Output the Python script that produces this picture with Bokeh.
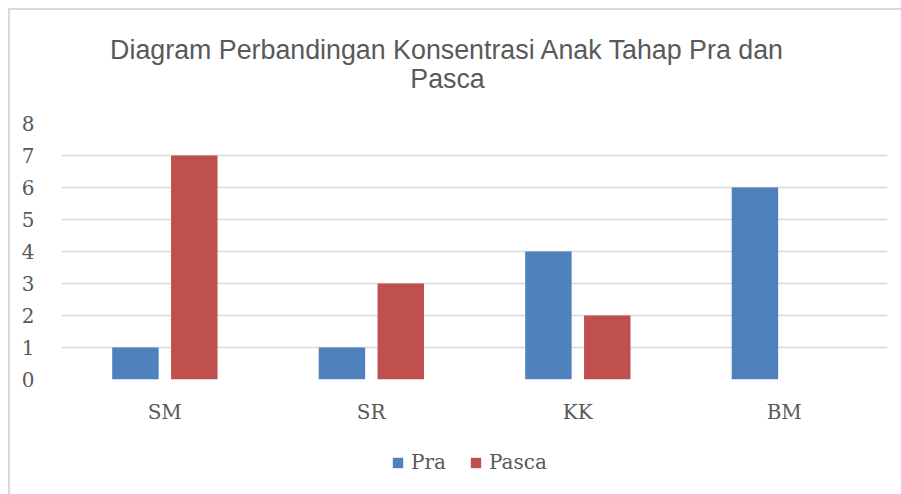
from bokeh.plotting import figure
from bokeh.layouts import column
from bokeh.models import (ColumnDataSource, FactorRange, Range1d, Legend, LegendItem,
                          Label, FixedTicker)
from bokeh.transform import dodge
from bokeh.embed import file_html
from bokeh.resources import INLINE

categories = ["SM", "SR", "KK", "BM"]
pra = [1, 1, 4, 6]
pasca = [7, 3, 2, 0]
series_names = ["Pra", "Pasca"]
y_ticks = [0, 1, 2, 3, 4, 5, 6, 7, 8]
title_lines = ["Diagram Perbandingan Konsentrasi Anak Tahap Pra dan", "Pasca"]

source = ColumnDataSource(dict(cat=categories, pra=pra, pasca=pasca))

TEXT = "#595959"
SERIF = "DejaVu Serif"
BLUE = "#4f81bd"
RED = "#c0504d"
W = 901


def bare(fig):
    fig.border_fill_color = None
    fig.background_fill_color = None
    fig.outline_line_color = None
    fig.frame_align = False
    return fig


# ---- title strip ----
pt = bare(figure(width=W, height=100, x_range=Range1d(0, W), y_range=Range1d(0, 100),
                 x_axis_type=None, y_axis_type=None, output_backend="svg",
                 toolbar_location=None, min_border=0))
for txt, yy in zip(title_lines, [51, 21.5]):
    pt.add_layout(Label(x=447, y=yy, text=txt, text_align="center",
                        text_baseline="alphabetic", text_font="Liberation Sans",
                        text_font_size="26.8px", text_color=TEXT))

# ---- main chart ----
p = bare(figure(width=W, height=340, x_range=FactorRange(*categories),
                y_range=Range1d(0, 8), output_backend="svg", toolbar_location=None,
                min_border_left=61, min_border_right=14,
                min_border_top=23, min_border_bottom=61))

p.vbar(x=dodge("cat", -0.142, range=p.x_range), top="pra", width=0.225,
       source=source, fill_color=BLUE, line_color=None)
p.vbar(x=dodge("cat", 0.143, range=p.x_range), top="pasca", width=0.225,
       source=source, fill_color=RED, line_color=None)

p.yaxis.ticker = FixedTicker(ticks=y_ticks)
for ax in (p.xaxis[0], p.yaxis[0]):
    ax.axis_line_color = None
    ax.major_tick_line_color = None
    ax.minor_tick_line_color = None
    ax.major_label_text_font = SERIF
    ax.major_label_text_font_size = "20px"
    ax.major_label_text_color = TEXT
p.yaxis.major_label_standoff = 21
p.xaxis.major_label_standoff = 14
p.xgrid.grid_line_color = None
p.ygrid.grid_line_color = "#d9d9d9"
p.ygrid.grid_line_width = 1.5

# ---- legend strip ----
pl = bare(figure(width=W, height=54, x_range=FactorRange(*categories),
                 y_range=Range1d(100, 101), x_axis_type=None, y_axis_type=None,
                 output_backend="svg", toolbar_location=None, min_border=0))
l1 = pl.vbar(x="cat", top="pra", width=0.2, source=source, fill_color=BLUE, line_color=None)
l2 = pl.vbar(x="cat", top="pasca", width=0.2, source=source, fill_color=RED, line_color=None)
legend = Legend(items=[LegendItem(label=series_names[0], renderers=[l1]),
                       LegendItem(label=series_names[1], renderers=[l2])],
                orientation="horizontal", location=(391, 20),
                glyph_width=13, glyph_height=13, label_height=13,
                label_standoff=7, spacing=23, padding=0, margin=0,
                border_line_color=None, background_fill_color=None,
                label_text_font=SERIF, label_text_font_size="20px",
                label_text_color=TEXT, label_text_baseline="middle")
pl.add_layout(legend)

layout = column(pt, p, pl, spacing=0)
layout.styles = {"box-shadow": "inset 8px 8px 0 #ffffff, inset 10px 10px 0 #d9d9d9"}

open("out.html", "w").write(file_html(layout, INLINE))
